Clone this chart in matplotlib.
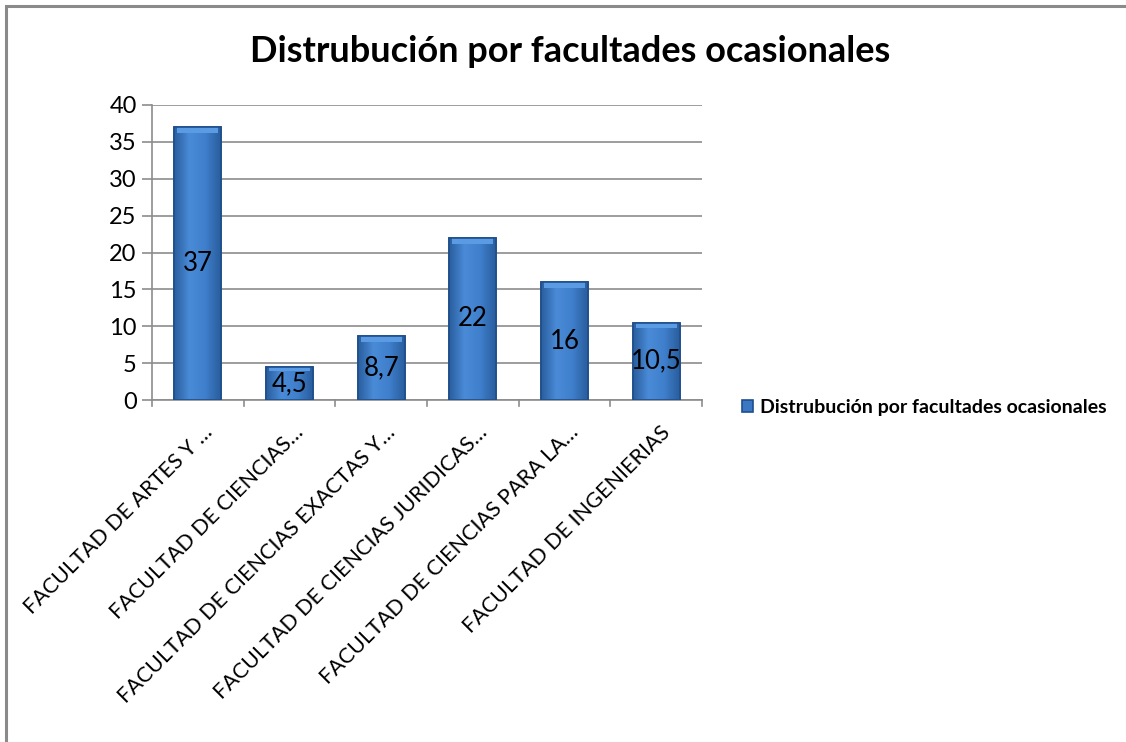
import matplotlib.pyplot as plt
import matplotlib.patches as patches
import matplotlib.transforms as mtransforms
import numpy as np
from matplotlib.colors import LinearSegmentedColormap

plt.rcParams["font.family"] = ["Lato", "DejaVu Sans"]

categories = [
    "FACULTAD DE ARTES Y …",
    "FACULTAD DE CIENCIAS…",
    "FACULTAD DE CIENCIAS EXACTAS Y…",
    "FACULTAD DE CIENCIAS JURIDICAS…",
    "FACULTAD DE CIENCIAS PARA LA…",
    "FACULTAD DE INGENIERIAS",
]
values = [37, 4.5, 8.7, 22, 16, 10.5]
value_labels = ["37", "4,5", "8,7", "22", "16", "10,5"]
series_name = "Distrubución por facultades ocasionales"
yticks = [0, 5, 10, 15, 20, 25, 30, 35, 40]

fig = plt.figure(figsize=(11.26, 7.42), dpi=100)
ax = fig.add_axes([0.135, 0.4609, 0.4885, 0.3976])

x = np.arange(len(categories))
bars = ax.bar(x, values, width=0.51, color="#3A78C4", edgecolor="#1F4F8C",
              linewidth=1.2, zorder=3, label=series_name)

# bevel-ish gradient inside each bar
cmap = LinearSegmentedColormap.from_list("bev", ["#2A5E9E", "#4A8BD8", "#3F7FCC", "#2A5E9E"])
grad = np.linspace(0, 1, 64).reshape(1, -1)
for b in bars:
    x0, w, h = b.get_x(), b.get_width(), b.get_height()
    im = ax.imshow(grad, cmap=cmap, extent=[x0, x0 + w, 0, h], aspect="auto", zorder=3.5)
    im.set_clip_path(b)
    ax.add_patch(patches.Rectangle((x0 + w * 0.06, h - min(0.8, h * 0.12)), w * 0.88, min(0.8, h * 0.12),
                                   facecolor="#5A9BE4", edgecolor="none", zorder=3.6))
    ax.add_patch(patches.Rectangle((x0, 0), w, h, facecolor="none",
                                   edgecolor="#1F4F8C", linewidth=1.2, zorder=3.7))

for xi, v, lab in zip(x, values, value_labels):
    ax.text(xi, v / 2, lab, ha="center", va="center", fontsize=18.5, color="black", zorder=5)

ax.set_xlim(-0.5, len(categories) - 0.5)
ax.set_ylim(0, 40)
ax.set_yticks(yticks)
ax.set_yticklabels([str(t) for t in yticks], fontsize=17)
ax.yaxis.grid(True, color="#8C8C8C", linewidth=1.2, zorder=0)
ax.set_axisbelow(True)

ax.set_xticks(x)
ax.set_xticklabels(categories, rotation=45, ha="right", rotation_mode="anchor", fontsize=15.5)
ax.tick_params(axis="x", length=0, pad=16)
shift = mtransforms.ScaledTranslation(4 / 100, 0, fig.dpi_scale_trans)
for lbl in ax.get_xticklabels():
    lbl.set_transform(lbl.get_transform() + shift)
for xb in np.arange(-0.5, len(categories), 1.0):
    ax.plot([xb, xb], [0, -0.8], color="#8C8C8C", linewidth=1.2, clip_on=False)
ax.tick_params(axis="y", length=7, color="#8C8C8C", width=1.2, pad=4)

for s in ["top", "right"]:
    ax.spines[s].set_visible(False)
ax.spines["left"].set_color("#8C8C8C")
ax.spines["bottom"].set_color("#8C8C8C")
ax.spines["left"].set_linewidth(1.2)
ax.spines["bottom"].set_linewidth(1.2)

fig.text(0.506, 0.93, series_name, ha="center", va="center", fontsize=26, fontweight="bold")

ax.legend(loc="center left", bbox_to_anchor=(1.04, -0.025), frameon=False,
          handlelength=0.6, handleheight=0.6, handletextpad=0.35,
          prop={"weight": "bold", "size": 14})

# outer frame
fig.add_artist(patches.Rectangle((6 / 1126, -0.1), 1.2, 1.1 - 6 / 742,
                                 transform=fig.transFigure, facecolor="none",
                                 edgecolor="#8A8A8A", linewidth=2.2))

fig.savefig("out.png", dpi=100)
